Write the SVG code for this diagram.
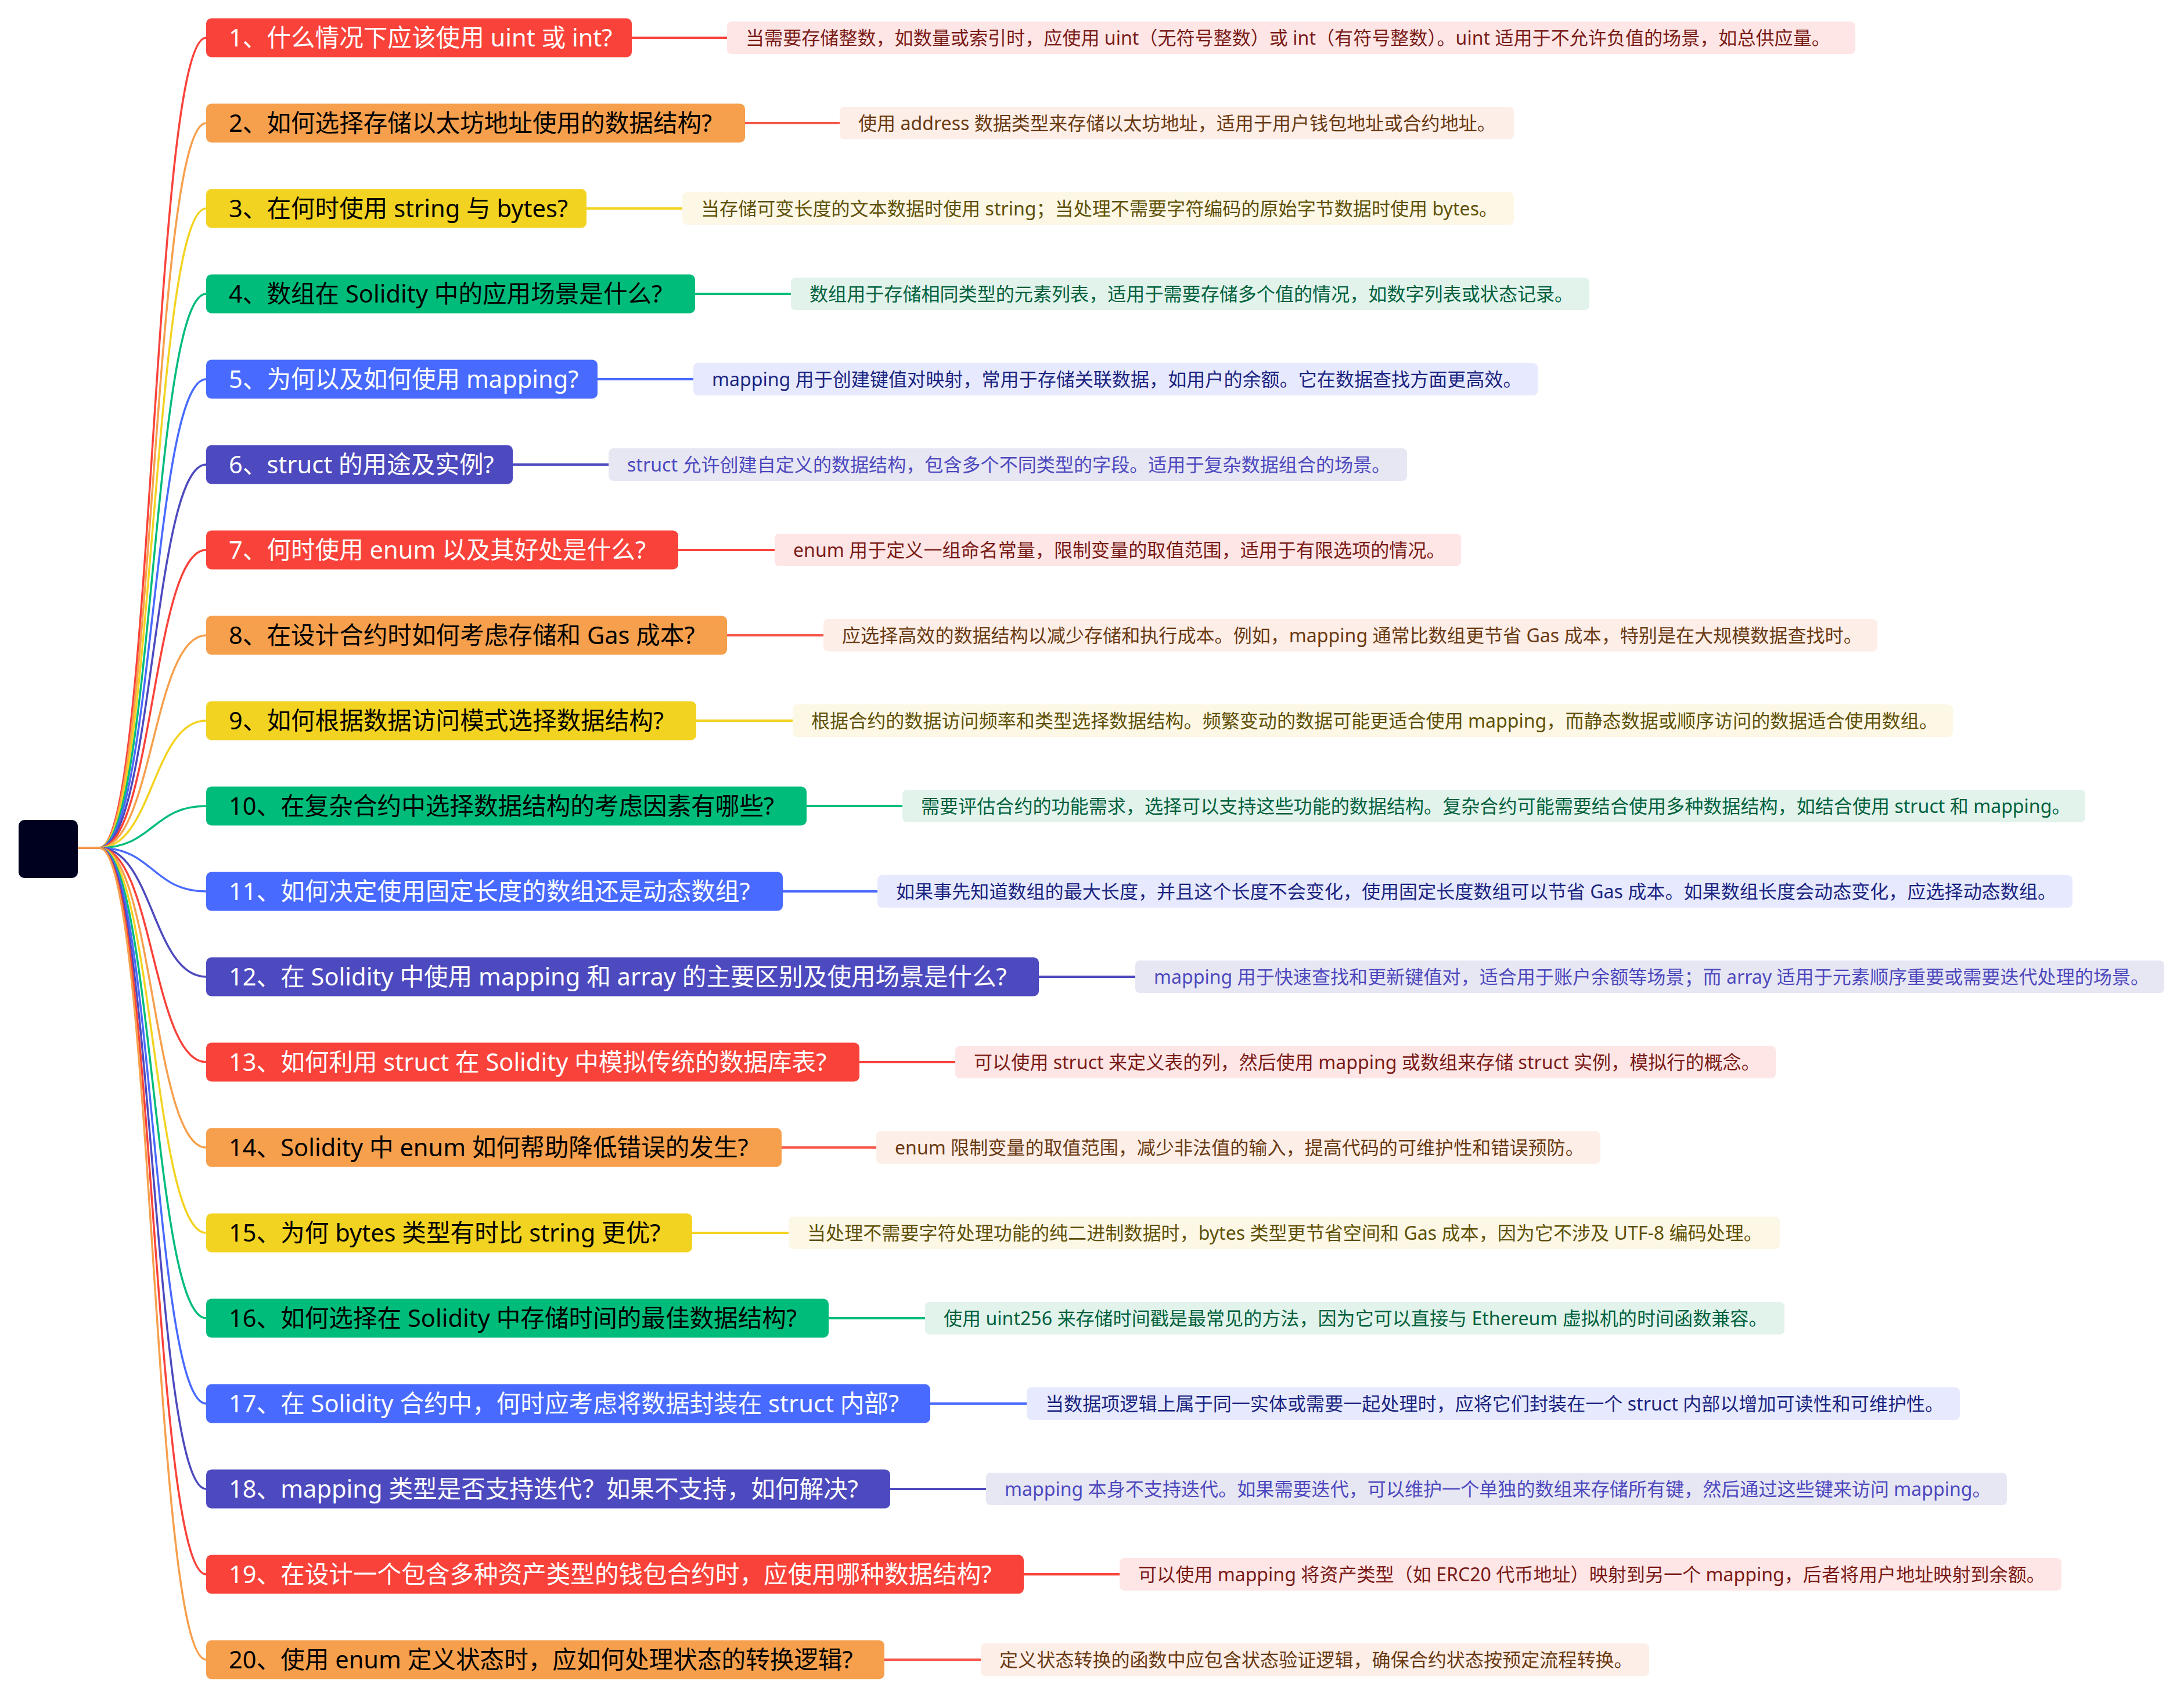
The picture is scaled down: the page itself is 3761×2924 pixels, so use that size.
<svg xmlns="http://www.w3.org/2000/svg" width="3761" height="2924" viewBox="0 0 3761 2924">
<style>
.t{font-family:"Noto Sans","Noto Sans CJK SC",sans-serif;font-size:41.6px}
.d{font-family:"Noto Sans","Noto Sans CJK SC",sans-serif;font-size:32.1px}
.c{fill:none;stroke-width:3.5;stroke-linecap:round}
.s{fill:none;stroke-width:4}
.R{fill:#F9423A}.O{fill:#F6A04D}.Y{fill:#F3D321}.G{fill:#00BC7B}.B{fill:#486AFF}.I{fill:#4D49BE}
.cR{stroke:#F9423A}.cO{stroke:#F6A04D}.cY{stroke:#F3D321}.cG{stroke:#00BC7B}.cB{stroke:#486AFF}.cI{stroke:#4D49BE}
.sO{stroke:#F6574A}
.w{fill:#FFFFFF}.k{fill:#000000}
.dR{fill:#FEE6E6}.dO{fill:#FDEEE8}.dY{fill:#FDF7E6}.dG{fill:#E2F3EB}.dB{fill:#E7EAFE}.dI{fill:#E7E6F3}
.xR{fill:#7A1B17}.xO{fill:#6A3A12}.xY{fill:#5F5106}.xG{fill:#00613E}.xB{fill:#1B2480}.xI{fill:#4D49BE}
</style>
<rect width="3761" height="2924" fill="#FFFFFF"/>
<g id="connectors">
<path class="c cR" d="M134,1460 L171,1460 C263,1460 263,65 355,65"/>
<path class="c cO" d="M134,1460 L171,1460 C263,1460 263,212 355,212"/>
<path class="c cY" d="M134,1460 L171,1460 C263,1460 263,359 355,359"/>
<path class="c cG" d="M134,1460 L171,1460 C263,1460 263,506 355,506"/>
<path class="c cB" d="M134,1460 L171,1460 C263,1460 263,653 355,653"/>
<path class="c cI" d="M134,1460 L171,1460 C263,1460 263,800 355,800"/>
<path class="c cR" d="M134,1460 L171,1460 C263,1460 263,947 355,947"/>
<path class="c cO" d="M134,1460 L171,1460 C263,1460 263,1094 355,1094"/>
<path class="c cY" d="M134,1460 L171,1460 C263,1460 263,1241 355,1241"/>
<path class="c cG" d="M134,1460 L171,1460 C263,1460 263,1388 355,1388"/>
<path class="c cB" d="M134,1460 L171,1460 C263,1460 263,1535 355,1535"/>
<path class="c cI" d="M134,1460 L171,1460 C263,1460 263,1682 355,1682"/>
<path class="c cR" d="M134,1460 L171,1460 C263,1460 263,1829 355,1829"/>
<path class="c cO" d="M134,1460 L171,1460 C263,1460 263,1976 355,1976"/>
<path class="c cY" d="M134,1460 L171,1460 C263,1460 263,2123 355,2123"/>
<path class="c cG" d="M134,1460 L171,1460 C263,1460 263,2270 355,2270"/>
<path class="c cB" d="M134,1460 L171,1460 C263,1460 263,2417 355,2417"/>
<path class="c cI" d="M134,1460 L171,1460 C263,1460 263,2564 355,2564"/>
<path class="c cR" d="M134,1460 L171,1460 C263,1460 263,2711 355,2711"/>
<path class="c cO" d="M134,1460 L171,1460 C263,1460 263,2858 355,2858"/>
<path class="s cR" d="M1088,65 H1252"/>
<path class="s sO" d="M1283,212 H1446"/>
<path class="s cY" d="M1010,359 H1175"/>
<path class="s cG" d="M1197,506 H1362"/>
<path class="s cB" d="M1029,653 H1194"/>
<path class="s cI" d="M883,800 H1048"/>
<path class="s cR" d="M1168,947 H1334"/>
<path class="s sO" d="M1252,1094 H1418"/>
<path class="s cY" d="M1199,1241 H1365"/>
<path class="s cG" d="M1389,1388 H1554"/>
<path class="s cB" d="M1348,1535 H1511"/>
<path class="s cI" d="M1789,1682 H1955"/>
<path class="s cR" d="M1480,1829 H1645"/>
<path class="s sO" d="M1346,1976 H1509"/>
<path class="s cY" d="M1192,2123 H1358"/>
<path class="s cG" d="M1427,2270 H1593"/>
<path class="s cB" d="M1602,2417 H1768"/>
<path class="s cI" d="M1533,2564 H1698"/>
<path class="s cR" d="M1763,2711 H1928"/>
<path class="s sO" d="M1523,2858 H1689"/>
</g>
<g id="root"><rect x="32" y="1412" width="102" height="100" rx="10" fill="#00001F"/></g>
<g id="n1"><rect class="R" x="355" y="31.5" width="733" height="67" rx="9"/><text class="t w" x="394" y="80">1、什么情况下应该使用 uint 或 int?</text></g>
<g id="n2"><rect class="O" x="355" y="178.5" width="928" height="67" rx="9"/><text class="t k" x="394" y="227">2、如何选择存储以太坊地址使用的数据结构?</text></g>
<g id="n3"><rect class="Y" x="355" y="325.5" width="655" height="67" rx="9"/><text class="t k" x="394" y="374">3、在何时使用 string 与 bytes?</text></g>
<g id="n4"><rect class="G" x="355" y="472.5" width="842" height="67" rx="9"/><text class="t k" x="394" y="521">4、数组在 Solidity 中的应用场景是什么?</text></g>
<g id="n5"><rect class="B" x="355" y="619.5" width="674" height="67" rx="9"/><text class="t w" x="394" y="668">5、为何以及如何使用 mapping?</text></g>
<g id="n6"><rect class="I" x="355" y="766.5" width="528" height="67" rx="9"/><text class="t w" x="394" y="815">6、struct 的用途及实例?</text></g>
<g id="n7"><rect class="R" x="355" y="913.5" width="813" height="67" rx="9"/><text class="t w" x="394" y="962">7、何时使用 enum 以及其好处是什么?</text></g>
<g id="n8"><rect class="O" x="355" y="1060.5" width="897" height="67" rx="9"/><text class="t k" x="394" y="1109">8、在设计合约时如何考虑存储和 Gas 成本?</text></g>
<g id="n9"><rect class="Y" x="355" y="1207.5" width="844" height="67" rx="9"/><text class="t k" x="394" y="1256">9、如何根据数据访问模式选择数据结构?</text></g>
<g id="n10"><rect class="G" x="355" y="1354.5" width="1034" height="67" rx="9"/><text class="t k" x="394" y="1403">10、在复杂合约中选择数据结构的考虑因素有哪些?</text></g>
<g id="n11"><rect class="B" x="355" y="1501.5" width="993" height="67" rx="9"/><text class="t w" x="394" y="1550">11、如何决定使用固定长度的数组还是动态数组?</text></g>
<g id="n12"><rect class="I" x="355" y="1648.5" width="1434" height="67" rx="9"/><text class="t w" x="394" y="1697">12、在 Solidity 中使用 mapping 和 array 的主要区别及使用场景是什么?</text></g>
<g id="n13"><rect class="R" x="355" y="1795.5" width="1125" height="67" rx="9"/><text class="t w" x="394" y="1844">13、如何利用 struct 在 Solidity 中模拟传统的数据库表?</text></g>
<g id="n14"><rect class="O" x="355" y="1942.5" width="991" height="67" rx="9"/><text class="t k" x="394" y="1991">14、Solidity 中 enum 如何帮助降低错误的发生?</text></g>
<g id="n15"><rect class="Y" x="355" y="2089.5" width="837" height="67" rx="9"/><text class="t k" x="394" y="2138">15、为何 bytes 类型有时比 string 更优?</text></g>
<g id="n16"><rect class="G" x="355" y="2236.5" width="1072" height="67" rx="9"/><text class="t k" x="394" y="2285">16、如何选择在 Solidity 中存储时间的最佳数据结构?</text></g>
<g id="n17"><rect class="B" x="355" y="2383.5" width="1247" height="67" rx="9"/><text class="t w" x="394" y="2432">17、在 Solidity 合约中，何时应考虑将数据封装在 struct 内部?</text></g>
<g id="n18"><rect class="I" x="355" y="2530.5" width="1178" height="67" rx="9"/><text class="t w" x="394" y="2579">18、mapping 类型是否支持迭代？如果不支持，如何解决?</text></g>
<g id="n19"><rect class="R" x="355" y="2677.5" width="1408" height="67" rx="9"/><text class="t w" x="394" y="2726">19、在设计一个包含多种资产类型的钱包合约时，应使用哪种数据结构?</text></g>
<g id="n20"><rect class="O" x="355" y="2824.5" width="1168" height="67" rx="9"/><text class="t k" x="394" y="2873">20、使用 enum 定义状态时，应如何处理状态的转换逻辑?</text></g>
<g id="d1"><rect class="dR" x="1252" y="37" width="1943" height="56" rx="8"/><text class="d xR" x="1284" y="76.5">当需要存储整数，如数量或索引时，应使用 uint（无符号整数）或 int（有符号整数）。uint 适用于不允许负值的场景，如总供应量。</text></g>
<g id="d2"><rect class="dO" x="1446" y="184" width="1161" height="56" rx="8"/><text class="d xO" x="1478" y="223.5">使用 address 数据类型来存储以太坊地址，适用于用户钱包地址或合约地址。</text></g>
<g id="d3"><rect class="dY" x="1175" y="331" width="1432" height="56" rx="8"/><text class="d xY" x="1207" y="370.5">当存储可变长度的文本数据时使用 string；当处理不需要字符编码的原始字节数据时使用 bytes。</text></g>
<g id="d4"><rect class="dG" x="1362" y="478" width="1375" height="56" rx="8"/><text class="d xG" x="1394" y="517.5">数组用于存储相同类型的元素列表，适用于需要存储多个值的情况，如数字列表或状态记录。</text></g>
<g id="d5"><rect class="dB" x="1194" y="625" width="1454" height="56" rx="8"/><text class="d xB" x="1226" y="664.5">mapping 用于创建键值对映射，常用于存储关联数据，如用户的余额。它在数据查找方面更高效。</text></g>
<g id="d6"><rect class="dI" x="1048" y="772" width="1375" height="56" rx="8"/><text class="d xI" x="1080" y="811.5">struct 允许创建自定义的数据结构，包含多个不同类型的字段。适用于复杂数据组合的场景。</text></g>
<g id="d7"><rect class="dR" x="1334" y="919" width="1182" height="56" rx="8"/><text class="d xR" x="1366" y="958.5">enum 用于定义一组命名常量，限制变量的取值范围，适用于有限选项的情况。</text></g>
<g id="d8"><rect class="dO" x="1418" y="1066" width="1815" height="56" rx="8"/><text class="d xO" x="1450" y="1105.5">应选择高效的数据结构以减少存储和执行成本。例如，mapping 通常比数组更节省 Gas 成本，特别是在大规模数据查找时。</text></g>
<g id="d9"><rect class="dY" x="1365" y="1213" width="1998" height="56" rx="8"/><text class="d xY" x="1397" y="1252.5">根据合约的数据访问频率和类型选择数据结构。频繁变动的数据可能更适合使用 mapping，而静态数据或顺序访问的数据适合使用数组。</text></g>
<g id="d10"><rect class="dG" x="1554" y="1360" width="2037" height="56" rx="8"/><text class="d xG" x="1586" y="1399.5">需要评估合约的功能需求，选择可以支持这些功能的数据结构。复杂合约可能需要结合使用多种数据结构，如结合使用 struct 和 mapping。</text></g>
<g id="d11"><rect class="dB" x="1511" y="1507" width="2058" height="56" rx="8"/><text class="d xB" x="1543" y="1546.5">如果事先知道数组的最大长度，并且这个长度不会变化，使用固定长度数组可以节省 Gas 成本。如果数组长度会动态变化，应选择动态数组。</text></g>
<g id="d12"><rect class="dI" x="1955" y="1654" width="1772" height="56" rx="8"/><text class="d xI" x="1987" y="1693.5">mapping 用于快速查找和更新键值对，适合用于账户余额等场景；而 array 适用于元素顺序重要或需要迭代处理的场景。</text></g>
<g id="d13"><rect class="dR" x="1645" y="1801" width="1413" height="56" rx="8"/><text class="d xR" x="1677" y="1840.5">可以使用 struct 来定义表的列，然后使用 mapping 或数组来存储 struct 实例，模拟行的概念。</text></g>
<g id="d14"><rect class="dO" x="1509" y="1948" width="1247" height="56" rx="8"/><text class="d xO" x="1541" y="1987.5">enum 限制变量的取值范围，减少非法值的输入，提高代码的可维护性和错误预防。</text></g>
<g id="d15"><rect class="dY" x="1358" y="2095" width="1707" height="56" rx="8"/><text class="d xY" x="1390" y="2134.5">当处理不需要字符处理功能的纯二进制数据时，bytes 类型更节省空间和 Gas 成本，因为它不涉及 UTF-8 编码处理。</text></g>
<g id="d16"><rect class="dG" x="1593" y="2242" width="1480" height="56" rx="8"/><text class="d xG" x="1625" y="2281.5">使用 uint256 来存储时间戳是最常见的方法，因为它可以直接与 Ethereum 虚拟机的时间函数兼容。</text></g>
<g id="d17"><rect class="dB" x="1768" y="2389" width="1607" height="56" rx="8"/><text class="d xB" x="1800" y="2428.5">当数据项逻辑上属于同一实体或需要一起处理时，应将它们封装在一个 struct 内部以增加可读性和可维护性。</text></g>
<g id="d18"><rect class="dI" x="1698" y="2536" width="1758" height="56" rx="8"/><text class="d xI" x="1730" y="2575.5">mapping 本身不支持迭代。如果需要迭代，可以维护一个单独的数组来存储所有键，然后通过这些键来访问 mapping。</text></g>
<g id="d19"><rect class="dR" x="1928" y="2683" width="1622" height="56" rx="8"/><text class="d xR" x="1960" y="2722.5">可以使用 mapping 将资产类型（如 ERC20 代币地址）映射到另一个 mapping，后者将用户地址映射到余额。</text></g>
<g id="d20"><rect class="dO" x="1689" y="2830" width="1151" height="56" rx="8"/><text class="d xO" x="1721" y="2869.5">定义状态转换的函数中应包含状态验证逻辑，确保合约状态按预定流程转换。</text></g>
</svg>
